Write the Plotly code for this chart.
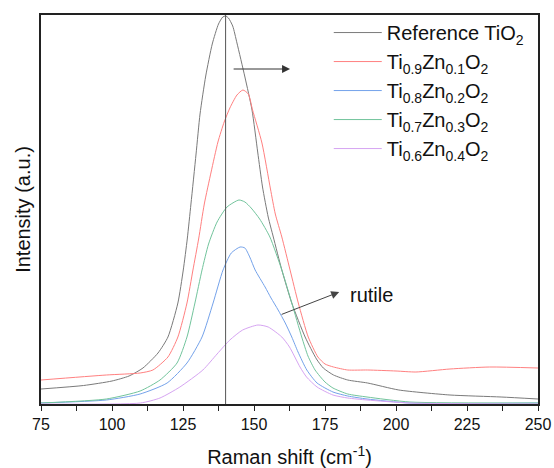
import plotly.graph_objects as go

# Raman spectra (low-wavenumber region), intensity in arbitrary units
ref_x = [75, 90, 100, 106, 110.9, 116.2, 119.7, 123.2, 125.1, 126.5, 127.8, 129.6, 131, 133, 135.3, 137.5, 139, 140,
         141, 142.5, 144, 146.8, 149.3, 151.3, 153, 155, 156.8, 159.8, 163.3, 168, 172, 174.4, 178,
         183, 190, 201, 219, 237, 250]
ref_y = [15, 18.5, 23, 28, 36, 51, 67, 101, 134, 165, 200, 250, 290, 328, 360, 380, 387, 388,
         386, 378, 361, 327, 294, 252, 217, 187, 167, 134, 101, 67, 45, 36, 29,
         24, 21, 14, 9, 7, 5]

zn01_x = [75, 98, 109.9, 114.4, 119.7, 123.2, 126.4, 128.5, 130.5, 132.5, 134.9, 137.3, 139.5, 141.5, 144, 146.1,
          148, 149.5, 152.8, 155.8, 157.5, 159.8, 162.7, 165.6, 169.1, 172.5, 175, 178,
          183, 190, 200, 207, 219, 233, 250]
zn01_y = [24, 29, 31, 34, 47, 67, 101, 134, 165, 200, 232, 262, 282, 296, 309, 314,
          310, 294, 261, 215, 190, 167, 134, 101, 67, 47, 40, 37,
          34, 34, 33, 32, 35, 37, 36]

zn02_x = [75, 98, 109.9, 119.4, 126.4, 131.7, 135.6, 139.1, 142, 145.1,
          146.8, 148.5, 150.4, 153.9, 156, 158.5, 161, 163.3, 165.5, 168.6, 172.2, 177.8,
          183, 189.8, 204.9, 250]
zn02_y = [1, 4, 10, 21, 41, 67, 101, 134, 151, 157,
          156, 147, 134, 117, 106, 94, 81, 67, 52, 34, 21, 12,
          8, 5, 1, 1]

zn03_x = [75, 98, 109.9, 116.9, 122.9, 126.4, 129.2, 131.7, 134, 137, 140.5, 144.7,
          146.8, 149, 152, 155.6, 159.8, 163.3, 166.8, 169, 171.5, 175, 177.8,
          183, 189.8, 204.9, 250]
zn03_y = [1, 5, 13, 24, 41, 67, 101, 134, 160, 182, 197, 204,
          202, 196, 185, 167, 134, 101, 67, 48, 34, 22, 16,
          10, 7, 2, 1]

zn04_x = [75, 110, 116.9, 123.9, 132, 137, 141.5, 146, 151.4,
          155, 159.8, 162.5, 166.2, 168.5, 172.2, 177.8, 183, 189.8, 204.9, 250]
zn04_y = [0, 1, 6, 17, 34, 50, 64, 74, 79,
          77, 67, 57, 37, 27, 17, 9, 6, 4, 1, 0]

series = [
    ("Reference TiO<sub>2</sub>", ref_x, ref_y, "#7a7a7a"),
    ("Ti<sub>0.9</sub>Zn<sub>0.1</sub>O<sub>2</sub>", zn01_x, zn01_y, "#ff8080"),
    ("Ti<sub>0.8</sub>Zn<sub>0.2</sub>O<sub>2</sub>", zn02_x, zn02_y, "#74a2ea"),
    ("Ti<sub>0.7</sub>Zn<sub>0.3</sub>O<sub>2</sub>", zn03_x, zn03_y, "#72c49c"),
    ("Ti<sub>0.6</sub>Zn<sub>0.4</sub>O<sub>2</sub>", zn04_x, zn04_y, "#d6a4f2"),
]

# reference peak position marker
ref_peak = 140
# peak-shift arrow and rutile label positions
shift_arrow = dict(x0=142.3, x1=162.7, y=335)
rutile_arrow = dict(x0=159.2, y0=89, x1=180.0, y1=112)
rutile_label = dict(x=183, y=109, text="rutile")

FONT = "Arial, Liberation Sans, sans-serif"

fig = go.Figure()
for name, xs, ys, color in series:
    fig.add_trace(go.Scatter(
        x=xs, y=ys, mode="lines", name=name,
        line=dict(color=color, width=1, shape="spline", smoothing=0.6),
    ))

fig.add_shape(type="line", x0=ref_peak, x1=ref_peak, y0=0, y1=1, yref="paper",
              line=dict(color="#555555", width=1))

fig.add_annotation(x=shift_arrow["x1"], y=shift_arrow["y"], ax=shift_arrow["x0"], ay=shift_arrow["y"],
                   xref="x", yref="y", axref="x", ayref="y", text="", showarrow=True,
                   arrowhead=2, arrowsize=1.6, arrowwidth=1, arrowcolor="#333333")
fig.add_annotation(x=rutile_arrow["x1"], y=rutile_arrow["y1"], ax=rutile_arrow["x0"], ay=rutile_arrow["y0"],
                   xref="x", yref="y", axref="x", ayref="y", text="", showarrow=True,
                   arrowhead=2, arrowsize=1.6, arrowwidth=1, arrowcolor="#444444")
fig.add_annotation(x=rutile_label["x"], y=rutile_label["y"], text=rutile_label["text"], showarrow=False,
                   xref="x", yref="y", xanchor="left", yanchor="middle",
                   font=dict(family=FONT, size=20, color="#111111"))

fig.update_layout(
    width=554, height=468,
    margin=dict(l=41, r=16, t=15, b=64),
    paper_bgcolor="white", plot_bgcolor="white",
    font=dict(family=FONT, color="#111111"),
    showlegend=True,
    legend=dict(x=0.579, y=1.005, xanchor="left", yanchor="top",
                bgcolor="rgba(0,0,0,0)", borderwidth=0,
                font=dict(family=FONT, size=20, color="#111111"),
                itemwidth=48, tracegroupgap=0),
    xaxis=dict(
        range=[75, 250], tickmode="linear", tick0=75, dtick=25,
        ticks="outside", ticklen=5, tickwidth=1, tickcolor="#222",
        minor=dict(dtick=12.5, ticks="outside", ticklen=5, tickwidth=1, tickcolor="#222"),
        showline=True, linecolor="#222", linewidth=1.5, mirror=True,
        showgrid=False, zeroline=False, automargin=False,
        tickfont=dict(family=FONT, size=16, color="#111111"),
        title=dict(text="Raman shift (cm<sup>-1</sup>)", font=dict(family=FONT, size=20), standoff=27),
    ),
    yaxis=dict(
        range=[0, 389], showticklabels=False, ticks="",
        showline=True, linecolor="#222", linewidth=1.5, mirror=True,
        showgrid=False, zeroline=False, automargin=False,
        title=dict(text="Intensity (a.u.)", font=dict(family=FONT, size=20), standoff=3),
    ),
)

fig.write_html("out.html")
